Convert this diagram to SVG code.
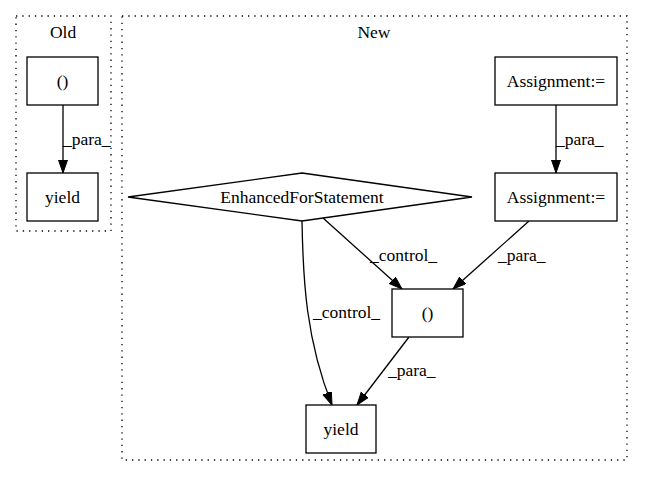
<svg xmlns="http://www.w3.org/2000/svg" width="657" height="480" viewBox="0 0 657 480">
<defs>
<style>
text{font-family:"Liberation Serif","Times New Roman",serif;font-size:17.5px;fill:#000}
.c{text-anchor:middle}
.cl{fill:none;stroke:#000;stroke-dasharray:1.3,5;stroke-width:1.3}
.n{fill:#fff;stroke:#000;stroke-width:1.3}
.e{fill:none;stroke:#000;stroke-width:1.3;marker-end:url(#ah)}
</style>
<marker id="ah" markerUnits="userSpaceOnUse" markerWidth="15" markerHeight="12" refX="13" refY="4.5" orient="auto">
<path d="M0,0 L13,4.5 L0,9 Z" fill="#000" stroke="#000"/>
</marker>
</defs>
<rect width="657" height="480" fill="#fff"/>
<g id="cluster_old">
<rect class="cl" x="16" y="16" width="95" height="215"/>
<text class="c" x="63" y="38">Old</text>
</g>
<g id="cluster_new">
<rect class="cl" x="122" y="16" width="505" height="444"/>
<text class="c" x="374" y="38">New</text>
</g>
<g id="edges">
<path class="e" d="M63,105 L63,173"/>
<text x="63" y="145">_para_</text>
<path class="e" d="M556,105 L556,173"/>
<text x="556" y="145">_para_</text>
<path class="e" d="M529,221 L453,289"/>
<text x="498" y="261">_para_</text>
<path class="e" d="M323,218 L402,289"/>
<text x="370" y="261">_control_</text>
<path class="e" d="M302,221 C303,280 306,340 332,405"/>
<text x="313" y="318">_control_</text>
<path class="e" d="M409,337 L357,405"/>
<text x="388" y="376">_para_</text>
</g>
<g id="old_paren">
<rect class="n" x="27" y="57" width="71" height="48"/>
<text class="c" x="62.5" y="87">()</text>
</g>
<g id="old_yield">
<rect class="n" x="27" y="173" width="71" height="48"/>
<text class="c" x="62.5" y="203">yield</text>
</g>
<g id="assign1">
<rect class="n" x="495" y="57" width="122" height="48"/>
<text class="c" x="556" y="87">Assignment:=</text>
</g>
<g id="assign2">
<rect class="n" x="495" y="173" width="122" height="48"/>
<text class="c" x="556" y="203">Assignment:=</text>
</g>
<g id="efs">
<polygon class="n" points="302,173 472,197 302,221 128,197"/>
<text class="c" x="302" y="203">EnhancedForStatement</text>
</g>
<g id="new_paren">
<rect class="n" x="392" y="289" width="71" height="48"/>
<text class="c" x="427.5" y="319">()</text>
</g>
<g id="new_yield">
<rect class="n" x="306" y="405" width="70" height="48"/>
<text class="c" x="341" y="435">yield</text>
</g>
</svg>
